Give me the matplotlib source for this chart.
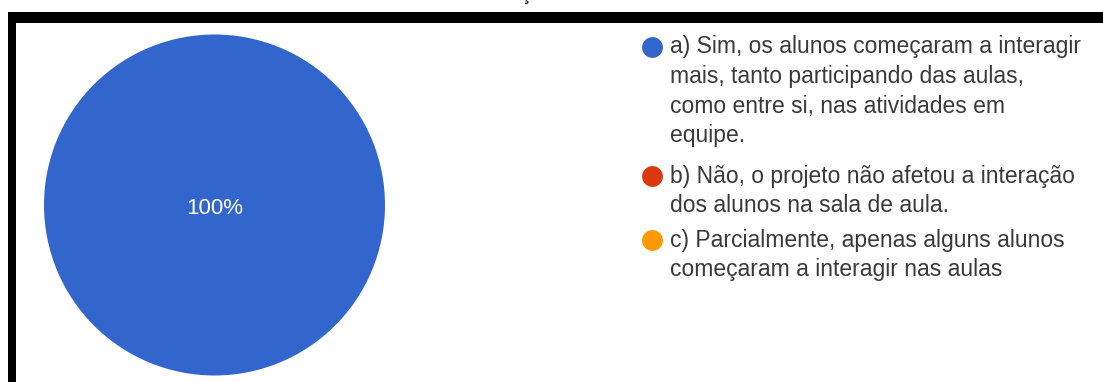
import matplotlib
matplotlib.use("Agg")
import matplotlib.pyplot as plt
from matplotlib.patches import Rectangle

plt.rcParams['font.family'] = ['Liberation Sans', 'DejaVu Sans']

# survey answers (share of respondents)
labels = [
    ["a) Sim, os alunos começaram a interagir",
     "mais, tanto participando das aulas,",
     "como entre si, nas atividades em",
     "equipe."],
    ["b) Não, o projeto não afetou a interação",
     "dos alunos na sala de aula."],
    ["c) Parcialmente, apenas alguns alunos",
     "começaram a interagir nas aulas"],
]
values = [100, 0, 0]
colors = ['#3366cc', '#dc3912', '#ff9900']

W, H = 1103, 382
fig = plt.figure(figsize=(W / 100, H / 100), dpi=100)
fig.patch.set_facecolor('white')

# black frame around the panel (top and left edges visible)
fig.add_artist(Rectangle((8 / W, 0), 8 / W, (H - 12) / H, transform=fig.transFigure,
                         facecolor='black', edgecolor='none'))
fig.add_artist(Rectangle((8 / W, (H - 23) / H), (W - 8) / W, 11 / H, transform=fig.transFigure,
                         facecolor='black', edgecolor='none'))
# tail of the clipped title above the frame
fig.text(525 / W, 1.0, "ç", ha='center', va='baseline', fontsize=15, color='#222222')

# pie
cx, cy, r = 214.5, 205, 170.5
ax = fig.add_axes([(cx - r) / W, (H - cy - r) / H, 2 * r / W, 2 * r / H])
ax.pie(values, colors=colors, startangle=90, counterclock=False,
       wedgeprops=dict(linewidth=0))
ax.set_xlim(-1, 1)
ax.set_ylim(-1, 1)
pct = 100 * values[0] / sum(values)
ax.text(0, -0.02, f"{pct:.0f}%", ha='center', va='center', color='white', fontsize=16)

# legend drawn in pixel coordinates
lg = fig.add_axes([0, 0, 1, 1])
lg.set_xlim(0, W)
lg.set_ylim(H, 0)
lg.axis('off')
lg.patch.set_alpha(0)

starts = [46.5, 176, 240]
line_h = 29.8
for lines, col, y0 in zip(labels, colors, starts):
    lg.plot(652, y0, 'o', markersize=15, color=col, markeredgewidth=0)
    for i, line in enumerate(lines):
        lg.text(670, y0 + i * line_h, line, ha='left', va='center',
                fontsize=16.5, color='#3a3a3a')

fig.savefig('out.png', dpi=100, facecolor='white')
